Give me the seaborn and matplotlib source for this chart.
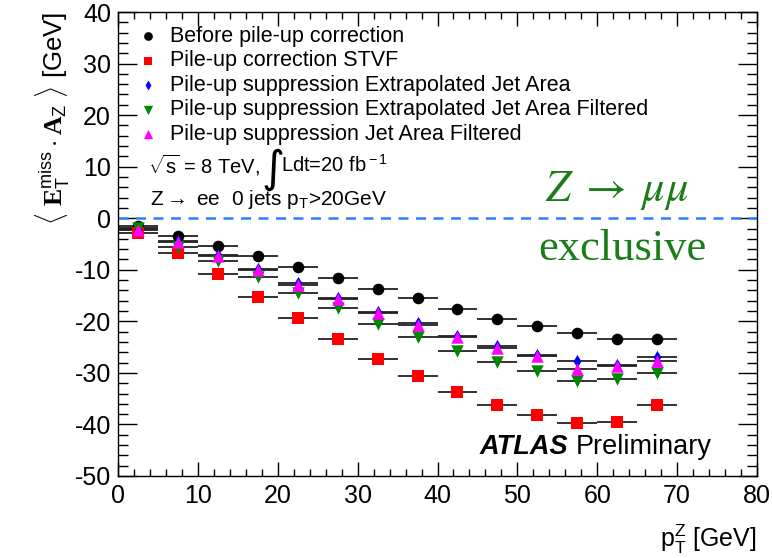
import numpy as np
import pandas as pd
import matplotlib
matplotlib.use("Agg")
import matplotlib.pyplot as plt
from matplotlib.ticker import MultipleLocator
import seaborn as sns

# ---- data ----
pt_bins = [2.5, 7.5, 12.5, 17.5, 22.5, 27.5, 32.5, 37.5, 42.5, 47.5, 52.5, 57.5, 62.5, 67.5]
bin_half_width = 2.5

before_pu = [-1.5, -3.4, -5.4, -7.4, -9.5, -11.6, -13.7, -15.5, -17.6, -19.5, -21.0, -22.2, -23.5, -23.5]
stvf = [-2.9, -6.7, -10.9, -15.3, -19.4, -23.5, -27.3, -30.6, -33.8, -36.2, -38.2, -39.8, -39.5, -36.2]
ext_jet_area = [-2.0, -4.5, -7.1, -9.8, -12.6, -15.4, -18.2, -20.4, -22.8, -24.8, -26.6, -27.7, -28.4, -27.0]
ext_jet_area_filt = [-1.9, -5.5, -8.3, -11.4, -14.5, -17.5, -20.6, -23.0, -25.7, -27.8, -29.6, -31.5, -31.2, -30.0]
jet_area_filt = [-2.2, -4.7, -7.3, -10.1, -12.9, -15.7, -18.4, -20.7, -23.0, -25.2, -26.8, -29.3, -28.7, -27.7]

series_names = [
    "Before pile-up correction",
    "Pile-up correction STVF",
    "Pile-up suppression Extrapolated Jet Area",
    "Pile-up suppression Extrapolated Jet Area Filtered",
    "Pile-up suppression Jet Area Filtered",
]
series_values = [before_pu, stvf, ext_jet_area, ext_jet_area_filt, jet_area_filt]
x_ticks = [0, 10, 20, 30, 40, 50, 60, 70, 80]
y_ticks = [-50, -40, -30, -20, -10, 0, 10, 20, 30, 40]

# ---- styling ----
palette = {
    series_names[0]: "#000000",
    series_names[1]: "#ff0000",
    series_names[2]: "#0000ff",
    series_names[3]: "#008800",
    series_names[4]: "#ff00ff",
}
markers = {
    series_names[0]: "o",
    series_names[1]: "s",
    series_names[2]: "d",
    series_names[3]: "v",
    series_names[4]: "^",
}
sizes = {
    series_names[0]: 70,
    series_names[1]: 70,
    series_names[2]: 45,
    series_names[3]: 80,
    series_names[4]: 80,
}

df = pd.DataFrame({
    "pt": np.tile(pt_bins, len(series_names)),
    "val": np.concatenate(series_values),
    "series": np.repeat(series_names, len(pt_bins)),
})

sns.set_style("ticks")
plt.rcParams["font.family"] = ["Liberation Sans", "DejaVu Sans"]
plt.rcParams["mathtext.fontset"] = "custom"
plt.rcParams["mathtext.rm"] = "Liberation Sans"
plt.rcParams["mathtext.it"] = "Liberation Sans:italic"
plt.rcParams["mathtext.bf"] = "Liberation Serif:bold"
plt.rcParams["axes.unicode_minus"] = False
plt.rcParams["text.color"] = "black"
plt.rcParams["axes.labelcolor"] = "black"
plt.rcParams["xtick.color"] = "black"
plt.rcParams["ytick.color"] = "black"

fig = plt.figure(figsize=(7.72, 5.58), dpi=100)
ax = fig.add_axes([118 / 772, 1 - 476 / 558, 639 / 772, 464 / 558])

# dashed zero line
ax.axhline(0, color="#2a7fff", lw=1.8, ls=(0, (4, 3)), zorder=1)

# horizontal bin-width bars
for name, vals in zip(series_names, series_values):
    ax.errorbar(pt_bins, vals, xerr=bin_half_width, fmt="none",
                ecolor="#222222", elinewidth=1.3, capsize=0, zorder=2)

for name in series_names:
    sub = df[df["series"] == name]
    sns.scatterplot(data=sub, x="pt", y="val", ax=ax, color=palette[name],
                    marker=markers[name], s=sizes[name], linewidth=0,
                    label=name, zorder=3)

ax.set_xlim(0, 80)
ax.set_ylim(-50, 40)
ax.set_xticks(x_ticks)
ax.set_yticks(y_ticks)
ax.xaxis.set_minor_locator(MultipleLocator(2))
ax.yaxis.set_minor_locator(MultipleLocator(2))
ax.tick_params(axis="both", which="both", direction="in", top=True, right=True,
               labelsize=18, color="black", labelcolor="black")
ax.tick_params(axis="x", which="major", length=10, width=1)
ax.tick_params(axis="x", which="minor", length=5, width=1)
ax.tick_params(axis="y", which="major", length=13.5, width=1)
ax.tick_params(axis="y", which="minor", length=7, width=1)
ax.tick_params(axis="x", pad=6)
ax.tick_params(axis="y", pad=5)
for sp in ax.spines.values():
    sp.set_linewidth(1.0)
    sp.set_color("black")

ax.set_xlabel(r"p$_{\rm T}^{\rm Z}$ [GeV]", fontsize=18, loc="right", labelpad=10)
ax.set_ylabel(r"$\langle\ \mathbf{E}_{\rm T}^{\rm miss}\cdot\mathbf{A}_{\rm Z}\ \rangle$ [GeV]",
              fontsize=18.5, loc="top", labelpad=2)

# legend
handles, labels = ax.get_legend_handles_labels()
leg = ax.legend(handles, labels, loc="upper left", bbox_to_anchor=(0.03, 0.970),
                frameon=False, fontsize=15.5, handlelength=1.0, handletextpad=0.52,
                labelspacing=0.16, borderpad=0, borderaxespad=0, markerscale=0.75)

# annotations
fig.canvas.draw()
def place_after(prev, text, y, **kw):
    b = prev.get_window_extent()
    xn = ax.transAxes.inverted().transform((b.x1 + kw.pop("gap", 0), 0))[0]
    return ax.text(xn, y, text, transform=ax.transAxes, **kw)

a1 = ax.text(0.047, 0.670, r"$\sqrt{\rm s}$ = 8 TeV,", transform=ax.transAxes,
             fontsize=14.5, va="center", ha="left")
fig.canvas.draw()
a2 = place_after(a1, "\u222b", 0.660, fontsize=32, va="center", ha="left",
                 family=["DejaVu Sans"], gap=1)
fig.canvas.draw()
a3 = place_after(a2, r"Ldt=20 fb$^{\rm -1}$", 0.670, fontsize=14.5, va="center",
                 ha="left", gap=-3)
ax.text(0.05, 0.595, r"Z$\rightarrow$ ee  0 jets p$_{\rm T}$>20GeV",
        transform=ax.transAxes, fontsize=15, va="center", ha="left")

ax.text(0.781, 0.615, r"$Z\;\rightarrow\;\mu\mu$", transform=ax.transAxes,
        fontsize=32, color="#1a7d1a", ha="center", va="center", math_fontfamily="stix")
ax.text(0.790, 0.490, "exclusive", transform=ax.transAxes, fontsize=32,
        color="#1a7d1a", ha="center", va="center", family=["Liberation Serif", "DejaVu Serif"])

t1 = ax.text(0.5665, 0.0625, "ATLAS", transform=ax.transAxes, fontsize=19.5,
             weight="bold", style="italic", va="center", ha="left")
fig.canvas.draw()
bb = t1.get_window_extent()
x_next = ax.transAxes.inverted().transform((bb.x1 + 7, 0))[0]
ax.text(x_next, 0.0625, "Preliminary", transform=ax.transAxes, fontsize=19.5,
        va="center", ha="left")

fig.savefig("out.png", dpi=100)
